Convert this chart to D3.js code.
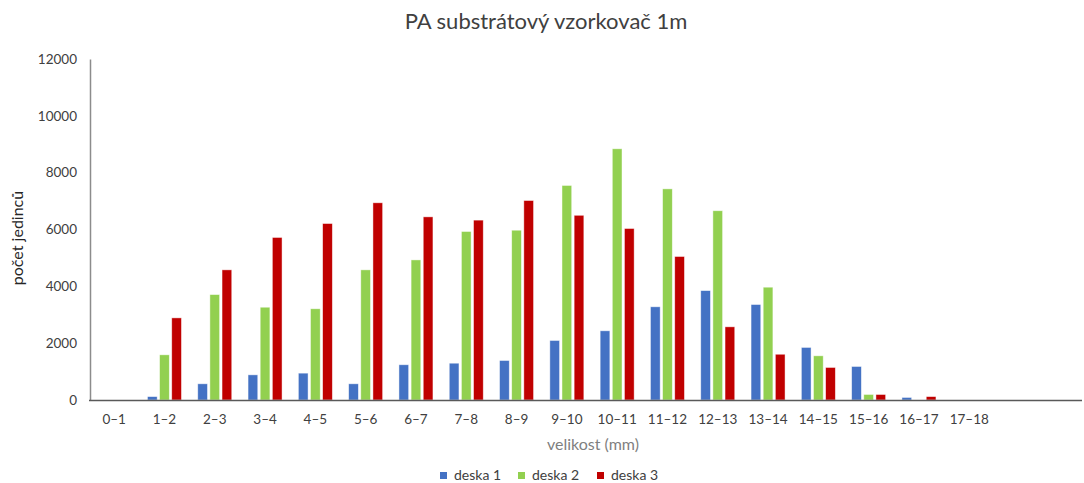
<!DOCTYPE html>
<html>
<head>
<meta charset="utf-8">
<script src="https://cdn.jsdelivr.net/npm/d3@7"></script>
<style>
  html, body { margin: 0; padding: 0; background: #fff; }
  svg { display: block; }
  text { font-family: Lato, "Open Sans", sans-serif; }
</style>
</head>
<body>
<svg id="chart" width="1084" height="483"></svg>
<script>
const categories = ["0–1","1–2","2–3","3–4","4–5","5–6","6–7","7–8","8–9","9–10","10–11","11–12","12–13","13–14","14–15","15–16","16–17","17–18"];
const seriesNames = ["deska 1", "deska 2", "deska 3"];
const deska1 = [0, 120, 570, 885, 945, 570, 1240, 1295, 1390, 2095, 2435, 3280, 3850, 3360, 1850, 1180, 90, 0];
const deska2 = [0, 1590, 3710, 3265, 3210, 4580, 4930, 5930, 5975, 7550, 8840, 7430, 6660, 3970, 1555, 195, 0, 0];
const deska3 = [0, 2890, 4580, 5720, 6210, 6940, 6445, 6330, 7020, 6500, 6035, 5050, 2575, 1610, 1145, 194, 120, 0];
const colors = ["#4472C4", "#92D050", "#C00000"];
const yTicks = [0, 2000, 4000, 6000, 8000, 10000, 12000];

(function () {
const seriesValues = [deska1, deska2, deska3];
const svg = d3.select("#chart");

const mLeft = 89, mTop = 59, mBottom = 400, step = 50.3, axisEnd = 1082;
const x = d3.scaleBand().domain(categories).range([mLeft, mLeft + step * categories.length]).padding(0);
const xInner = d3.scaleBand().domain(seriesNames).range([-17, 17]).paddingInner(0.2);
const y = d3.scaleLinear().domain([0, 12000]).range([mBottom, mTop]);

// title
svg.append("text").attr("x", 546).attr("y", 29).attr("text-anchor", "middle")
  .attr("font-size", 22).attr("fill", "#404040").text("PA substrátový vzorkovač 1m");

// y axis
const yAxis = d3.axisLeft(y).tickValues(yTicks).tickSize(0).tickPadding(13).tickFormat(d3.format("d"));
const gy = svg.append("g").attr("transform", `translate(${mLeft + 1},0)`).call(yAxis);
gy.select(".domain").attr("stroke", "#8c8c8c").attr("stroke-width", 1.5);
gy.selectAll("text").attr("font-size", 13.5).attr("fill", "#404040").attr("font-family", "Lato, 'Open Sans', sans-serif");

// bars
seriesNames.forEach((s, si) => {
  svg.append("g").selectAll("rect").data(seriesValues[si]).join("rect")
    .attr("x", (d, i) => x(categories[i]) + x.bandwidth() / 2 + xInner(s))
    .attr("width", xInner.bandwidth())
    .attr("y", d => y(d))
    .attr("height", d => mBottom - y(d))
    .attr("fill", colors[si])
    .attr("stroke", "#ffffff").attr("stroke-opacity", 0.6).attr("stroke-width", 0.75);
});

// x axis
const xAxis = d3.axisBottom(x).tickSize(0).tickPadding(14);
const gx = svg.append("g").attr("transform", `translate(0,${mBottom})`).call(xAxis);
gx.select(".domain").remove();
gx.selectAll("text").attr("font-size", 13.5).attr("fill", "#404040").attr("font-family", "Lato, 'Open Sans', sans-serif");
svg.append("line").attr("x1", mLeft).attr("x2", axisEnd).attr("y1", mBottom + 0.5).attr("y2", mBottom + 0.5)
  .attr("stroke", "#595959").attr("stroke-width", 1.5);

// axis titles
svg.append("text").attr("x", 593).attr("y", 450).attr("text-anchor", "middle")
  .attr("font-size", 16).attr("fill", "#7f7f7f").text("velikost (mm)");
svg.append("text").attr("transform", "translate(23,238) rotate(-90)").attr("text-anchor", "middle")
  .attr("font-size", 16).attr("fill", "#262626").text("počet jedinců");

// legend
const legendX = [440, 518, 597];
const lg = svg.append("g");
seriesNames.forEach((s, i) => {
  lg.append("rect").attr("x", legendX[i]).attr("y", 472).attr("width", 7).attr("height", 7).attr("fill", colors[i]);
  lg.append("text").attr("x", legendX[i] + 14).attr("y", 480).attr("font-size", 14).attr("fill", "#404040").text(s);
});
})();
</script>
</body>
</html>
